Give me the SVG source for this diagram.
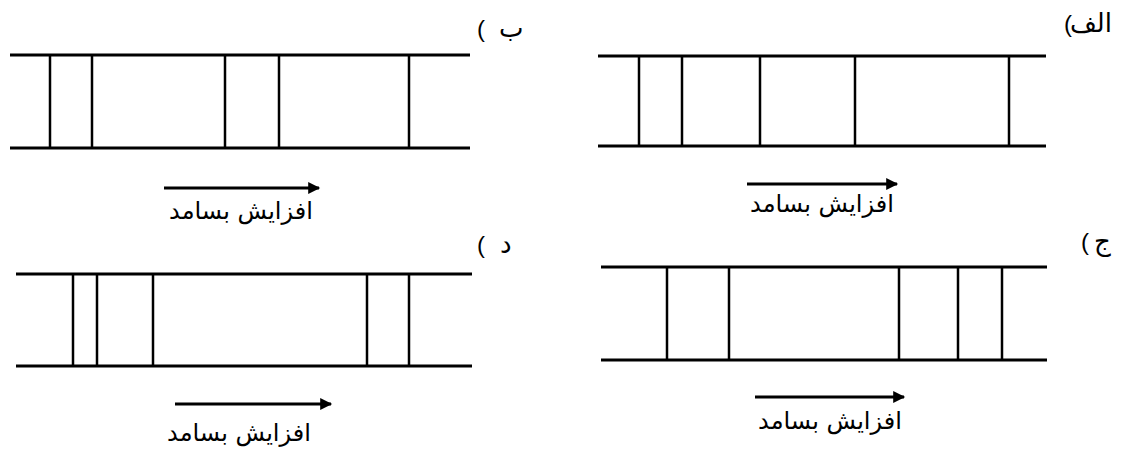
<svg xmlns="http://www.w3.org/2000/svg" width="1125" height="452" viewBox="0 0 1125 452">
<defs>
<marker id="ah" viewBox="0 0 10 10" refX="9" refY="5" markerWidth="5.5" markerHeight="4" markerUnits="strokeWidth" orient="auto">
<path d="M0,0 L10,5 L0,10 z" fill="#000"/>
</marker>
</defs>
<style>
.rail{stroke:#000;stroke-width:3;fill:none}
.rung{stroke:#000;stroke-width:2.5;fill:none}
.arr{stroke:#000;stroke-width:3;fill:none}
.cap{font-family:"DejaVu Sans",sans-serif;font-size:24px;fill:#000;text-anchor:middle}
.lbl{font-family:"DejaVu Sans",sans-serif;font-size:26px;fill:#000}
.par{font-family:"Liberation Sans",sans-serif;font-size:24px;fill:#000}
</style>
<rect width="1125" height="452" fill="#fff"/>

<g id="panel-alef">
<text class="par" x="1064" y="32">(</text>
<text class="lbl" x="1112" y="32" text-anchor="end">الف</text>
<line class="rail" x1="598" y1="56" x2="1046" y2="56"/>
<line class="rail" x1="598" y1="146" x2="1046" y2="146"/>
<line class="rung" x1="639" y1="56" x2="639" y2="146"/>
<line class="rung" x1="682" y1="56" x2="682" y2="146"/>
<line class="rung" x1="760" y1="56" x2="760" y2="146"/>
<line class="rung" x1="855" y1="56" x2="855" y2="146"/>
<line class="rung" x1="1009" y1="56" x2="1009" y2="146"/>
<text class="cap" x="822" y="212">افزایش بسامد</text>
</g>

<g id="panel-be">
<text class="par" x="477" y="37">(</text>
<text class="lbl" x="499" y="37">ب</text>
<line class="rail" x1="10" y1="55" x2="470" y2="55"/>
<line class="rail" x1="10" y1="148" x2="470" y2="148"/>
<line class="rung" x1="50" y1="55" x2="50" y2="148"/>
<line class="rung" x1="92" y1="55" x2="92" y2="148"/>
<line class="rung" x1="225" y1="55" x2="225" y2="148"/>
<line class="rung" x1="279" y1="55" x2="279" y2="148"/>
<line class="rung" x1="409" y1="55" x2="409" y2="148"/>
<text class="cap" x="241" y="219">افزایش بسامد</text>
</g>

<g id="panel-jim">
<text class="par" x="1081" y="250">(</text>
<text class="lbl" x="1094" y="250">ج</text>
<line class="rail" x1="601" y1="267" x2="1047" y2="267"/>
<line class="rail" x1="601" y1="360" x2="1047" y2="360"/>
<line class="rung" x1="667" y1="267" x2="667" y2="360"/>
<line class="rung" x1="729" y1="267" x2="729" y2="360"/>
<line class="rung" x1="899" y1="267" x2="899" y2="360"/>
<line class="rung" x1="958" y1="267" x2="958" y2="360"/>
<line class="rung" x1="1002" y1="267" x2="1002" y2="360"/>
<text class="cap" x="830" y="429">افزایش بسامد</text>
</g>

<g id="panel-dal">
<text class="par" x="477" y="253">(</text>
<text class="lbl" x="500" y="253">د</text>
<line class="rail" x1="16" y1="274" x2="472" y2="274"/>
<line class="rail" x1="16" y1="366" x2="472" y2="366"/>
<line class="rung" x1="73" y1="274" x2="73" y2="366"/>
<line class="rung" x1="97" y1="274" x2="97" y2="366"/>
<line class="rung" x1="153" y1="274" x2="153" y2="366"/>
<line class="rung" x1="367" y1="274" x2="367" y2="366"/>
<line class="rung" x1="409" y1="274" x2="409" y2="366"/>
<text class="cap" x="239" y="441">افزایش بسامد</text>
</g>

<g id="connectors">
<line class="arr" x1="164" y1="188" x2="319" y2="188" marker-end="url(#ah)"/>
<line class="arr" x1="747" y1="184" x2="897" y2="184" marker-end="url(#ah)"/>
<line class="arr" x1="175" y1="404" x2="331" y2="404" marker-end="url(#ah)"/>
<line class="arr" x1="755" y1="397" x2="904" y2="397" marker-end="url(#ah)"/>
</g>
</svg>
